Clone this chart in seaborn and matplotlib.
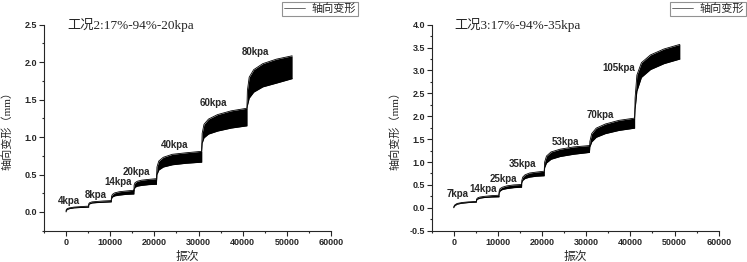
import numpy as np
import seaborn as sns
import matplotlib.pyplot as plt
from matplotlib.ticker import MultipleLocator

# loading stages (cycles) and sample points inside each stage
stage_edges = [0, 5120, 10240, 15360, 20480, 30720, 40960, 51200]
stage_frac = [0, 0.01, 0.05, 0.15, 0.35, 0.65, 1.0]

# case 2 : envelope of axial deformation (mm), one row per stage
c2_lower = [
    [0.00, 0.02, 0.035, 0.045, 0.055, 0.06, 0.065],
    [0.08, 0.10, 0.11, 0.12, 0.125, 0.13, 0.135],
    [0.155, 0.18, 0.20, 0.215, 0.225, 0.235, 0.24],
    [0.26, 0.30, 0.33, 0.345, 0.355, 0.365, 0.37],
    [0.40, 0.50, 0.56, 0.60, 0.63, 0.65, 0.665],
    [0.82, 0.92, 0.99, 1.04, 1.08, 1.12, 1.15],
    [1.37, 1.42, 1.52, 1.60, 1.67, 1.72, 1.78],
]
c2_upper = [
    [0.01, 0.03, 0.045, 0.055, 0.065, 0.072, 0.078],
    [0.09, 0.115, 0.125, 0.135, 0.14, 0.147, 0.152],
    [0.17, 0.21, 0.235, 0.255, 0.27, 0.28, 0.29],
    [0.28, 0.36, 0.39, 0.41, 0.425, 0.435, 0.445],
    [0.46, 0.60, 0.68, 0.73, 0.77, 0.79, 0.81],
    [0.86, 1.05, 1.17, 1.24, 1.30, 1.35, 1.385],
    [1.40, 1.62, 1.80, 1.90, 1.98, 2.04, 2.085],
]
c2_names = ["4kpa", "8kpa", "14kpa", "20kpa", "40kpa", "60kpa", "80kpa"]
c2_label_xy = [(730, 0.14), (6780, 0.23), (11830, 0.40), (15840, 0.53),
               (24510, 0.89), (33340, 1.46), (42860, 2.13)]
c2_yticks = [0.0, 0.5, 1.0, 1.5, 2.0, 2.5]

# case 3
c3_lower = [
    [0.00, 0.02, 0.05, 0.08, 0.10, 0.115, 0.125],
    [0.14, 0.17, 0.19, 0.21, 0.225, 0.235, 0.24],
    [0.28, 0.33, 0.37, 0.40, 0.42, 0.44, 0.45],
    [0.47, 0.55, 0.60, 0.64, 0.67, 0.69, 0.70],
    [0.76, 0.88, 0.98, 1.06, 1.12, 1.17, 1.21],
    [1.21, 1.33, 1.44, 1.54, 1.62, 1.69, 1.74],
    [1.93, 2.15, 2.55, 2.85, 3.02, 3.15, 3.25],
]
c3_upper = [
    [0.01, 0.035, 0.065, 0.095, 0.115, 0.13, 0.14],
    [0.15, 0.19, 0.215, 0.235, 0.25, 0.265, 0.275],
    [0.30, 0.37, 0.42, 0.45, 0.48, 0.50, 0.51],
    [0.50, 0.60, 0.67, 0.72, 0.76, 0.78, 0.80],
    [0.80, 1.00, 1.13, 1.22, 1.28, 1.33, 1.36],
    [1.24, 1.45, 1.62, 1.74, 1.83, 1.91, 1.96],
    [1.96, 2.40, 2.90, 3.17, 3.34, 3.47, 3.57],
]
c3_names = ["7kpa", "14kpa", "25kpa", "35kpa", "53kpa", "70kpa", "105kpa"]
c3_label_xy = [(800, 0.30), (6690, 0.41), (11220, 0.63), (15610, 0.96),
               (25190, 1.44), (33120, 2.03), (37260, 3.05)]
c3_yticks = [-0.5, 0.0, 0.5, 1.0, 1.5, 2.0, 2.5, 3.0, 3.5, 4.0]

xticks = [0, 10000, 20000, 30000, 40000, 50000, 60000]

sns.set_style("ticks")
plt.rcParams["font.family"] = ["Liberation Sans", "Noto Sans CJK SC"]
plt.rcParams["axes.linewidth"] = 0.8

cjk = ["Liberation Serif", "Noto Sans CJK SC"]


def stage_cycles():
    xs = []
    for a, b in zip(stage_edges[:-1], stage_edges[1:]):
        xs.extend([a + f * (b - a) for f in stage_frac])
    return np.array(xs)


def draw_panel(ax, lower, upper, names, label_xy, yticks, title, ylim):
    x = stage_cycles()
    lo = np.concatenate(lower)
    hi = np.concatenate(upper)
    ax.fill_between(x, lo, hi, color="black", lw=0)
    sns.lineplot(x=x, y=hi, ax=ax, color="black", lw=0.6, estimator=None,
                 sort=False, label="轴向变形")
    sns.lineplot(x=x, y=lo, ax=ax, color="black", lw=0.6, estimator=None,
                 sort=False, legend=False)

    for name, (tx, ty) in zip(names, label_xy):
        ax.text(tx, ty, name, ha="center", va="center", fontsize=7,
                fontweight="bold")

    ax.set_xlim(-5000, 60000)
    ax.set_ylim(*ylim)
    ax.set_xticks(xticks)
    ax.set_xticklabels([str(v) for v in xticks], fontweight="bold")
    ax.set_yticks(yticks)
    ax.set_yticklabels([f"{v:.1f}" for v in yticks], fontweight="bold")
    ax.xaxis.set_minor_locator(MultipleLocator(5000))
    ax.yaxis.set_minor_locator(MultipleLocator(0.25))
    ax.tick_params(which="major", length=3.4, width=0.8, labelsize=6.5, pad=1.5)
    ax.tick_params(which="minor", length=1.7, width=0.8)
    sns.despine(ax=ax)

    ax.set_xlabel("振次", family=cjk, fontsize=8.5, labelpad=3)
    ax.set_ylabel("轴向变形（mm）", family=cjk, fontsize=8)
    ax.yaxis.set_label_coords(-0.11, 0.5)
    ax.text(0.08, 1.0, title, transform=ax.transAxes, family=cjk,
            fontsize=9.5, ha="left", va="center")
    return ax


fig = plt.figure(figsize=(7.47, 2.62), dpi=100)
ax1 = fig.add_axes([44 / 747, 31.3 / 262, 287 / 747, 206 / 262])
ax2 = fig.add_axes([431.7 / 747, 31.3 / 262, 287 / 747, 206 / 262])

draw_panel(ax1, c2_lower, c2_upper, c2_names, c2_label_xy, c2_yticks,
           "工况2:17%-94%-20kpa", (-0.25, 2.5))
draw_panel(ax2, c3_lower, c3_upper, c3_names, c3_label_xy, c3_yticks,
           "工况3:17%-94%-35kpa", (-0.5, 4.0))

for ax, right in [(ax1, 358), (ax2, 746)]:
    leg = ax.legend(loc="upper right", bbox_to_anchor=(right / 747, 1 - 1.5 / 262),
                    bbox_transform=fig.transFigure, frameon=True,
                    fancybox=False, edgecolor="#777777", handlelength=1.9,
                    borderpad=0.15, handletextpad=0.6, borderaxespad=0,
                    prop={"family": cjk, "size": 8})
    leg.get_frame().set_linewidth(0.8)
    for line in leg.get_lines():
        line.set_linewidth(0.5)
        line.set_color("#333333")

fig.savefig("out.png", dpi=100)
